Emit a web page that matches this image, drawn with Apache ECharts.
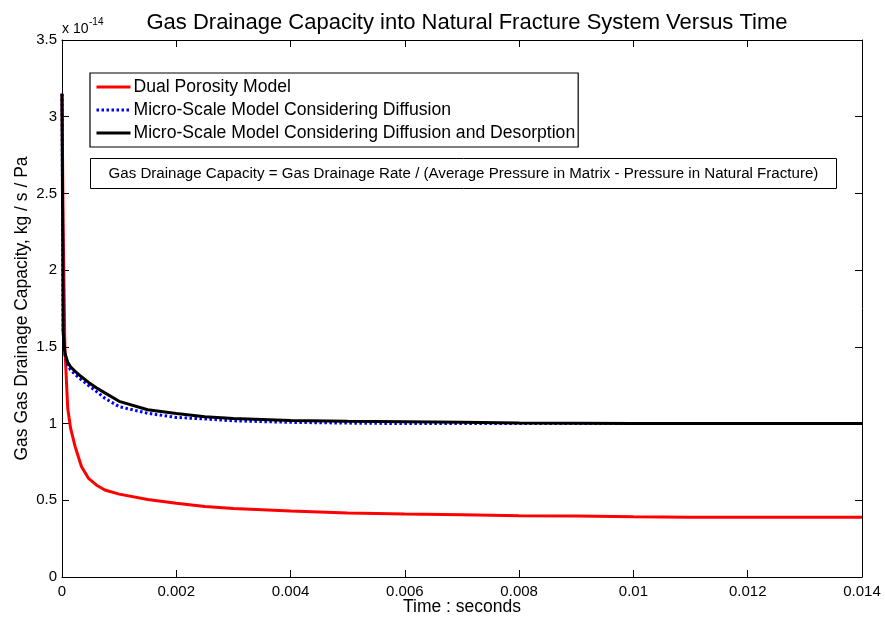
<!DOCTYPE html>
<html>
<head>
<meta charset="utf-8">
<script src="https://cdn.jsdelivr.net/npm/echarts@6/dist/echarts.min.js"></script>
<style>
  html, body { margin: 0; padding: 0; background: #fff; }
  #chart { width: 885px; height: 619px; }
</style>
</head>
<body>
<div id="chart"></div>
<script>
// Time samples (seconds)
var times = [0, 0.00002, 0.00005, 0.0001, 0.00015, 0.00023, 0.00034, 0.00046, 0.0006, 0.00075,
  0.001, 0.0015, 0.002, 0.0025, 0.003, 0.004, 0.005, 0.006, 0.007, 0.008,
  0.009, 0.010, 0.011, 0.012, 0.013, 0.014];

// Gas drainage capacity, in units of 1e-14 kg/s/Pa
var dualPorosity = [3.15, 2.3, 1.5, 1.1, 0.97, 0.85, 0.72, 0.645, 0.60, 0.567,
  0.54, 0.505, 0.48, 0.46, 0.447, 0.43, 0.417, 0.41, 0.405, 0.40,
  0.397, 0.392, 0.39, 0.39, 0.39, 0.39];
var diffusionOnly = [3.15, 1.6, 1.45, 1.38, 1.35, 1.32, 1.285, 1.25, 1.21, 1.165,
  1.11, 1.067, 1.04, 1.03, 1.018, 1.008, 1.003, 1.0, 1.0, 1.0,
  1.0, 1.0, 1.0, 1.0, 1.0, 1.0];
var diffusionDesorption = [3.15, 1.6, 1.46, 1.40, 1.37, 1.34, 1.305, 1.27, 1.234, 1.20,
  1.145, 1.09, 1.065, 1.045, 1.033, 1.02, 1.015, 1.012, 1.008, 1.004,
  1.002, 1.0, 1.0, 1.0, 1.0, 1.0];

var seriesNames = [
  'Dual Porosity Model',
  'Micro-Scale Model Considering Diffusion',
  'Micro-Scale Model Considering Diffusion and Desorption'
];
var xTicks = { min: 0, max: 0.014, step: 0.002 };
var yTicks = { min: 0, max: 3.5, step: 0.5 };

var FONT = '"Liberation Sans", Arial, sans-serif';

function pairs(vals) {
  return times.map(function (t, i) { return [t, vals[i]]; });
}
function fmt(v) { return String(parseFloat(v.toFixed(4))); }

var chart = echarts.init(document.getElementById('chart'), null, { renderer: 'canvas' });

var tickStyle = { show: true, inside: true, length: 7, lineStyle: { color: '#000', width: 1 } };
var lineStyle = { show: true, onZero: false, lineStyle: { color: '#000', width: 1 } };

chart.setOption({
  animation: false,
  backgroundColor: '#fff',
  title: {
    text: 'Gas Drainage Capacity into Natural Fracture System Versus Time',
    left: 462, top: 7, textAlign: 'center',
    textStyle: { fontFamily: FONT, fontSize: 22, fontWeight: 'normal', color: '#000' }
  },
  grid: { left: 62, right: 23, top: 40, bottom: 42, containLabel: false, outerBoundsMode: 'none' },
  legend: {
    orient: 'vertical',
    left: 90, top: 73,
    padding: [5, 3, 5, 5],
    itemGap: 5,
    itemWidth: 34, itemHeight: 17,
    backgroundColor: '#fff',
    borderColor: '#000', borderWidth: 1.2,
    itemStyle: { opacity: 0 },
    lineStyle: { width: 3 },
    textStyle: { fontFamily: FONT, fontSize: 17.6, color: '#000', padding: [0, 0, 0, -2] },
    data: seriesNames
  },
  xAxis: [{
    type: 'value', min: xTicks.min, max: xTicks.max, interval: xTicks.step,
    name: 'Time : seconds', nameLocation: 'middle', nameGap: 21, nameMoveOverlap: false,
    nameTextStyle: { fontFamily: FONT, fontSize: 17.5, color: '#000' },
    axisLine: lineStyle, axisTick: tickStyle, splitLine: { show: false },
    axisLabel: { fontFamily: FONT, fontSize: 15, color: '#000', margin: 7, formatter: fmt }
  }, {
    type: 'value', position: 'top', min: xTicks.min, max: xTicks.max, interval: xTicks.step,
    axisLine: lineStyle, axisTick: tickStyle, splitLine: { show: false },
    axisLabel: { show: false }
  }],
  yAxis: [{
    type: 'value', min: yTicks.min, max: yTicks.max, interval: yTicks.step,
    name: 'Gas Gas Drainage Capacity, kg / s / Pa', nameLocation: 'middle', nameGap: 31, nameMoveOverlap: false,
    nameTextStyle: { fontFamily: FONT, fontSize: 17.5, color: '#000' },
    axisLine: lineStyle, axisTick: tickStyle, splitLine: { show: false },
    axisLabel: { fontFamily: FONT, fontSize: 15, color: '#000', margin: 5, formatter: fmt }
  }, {
    type: 'value', position: 'right', min: yTicks.min, max: yTicks.max, interval: yTicks.step,
    axisLine: lineStyle, axisTick: tickStyle, splitLine: { show: false },
    axisLabel: { show: false }
  }],
  graphic: [
    { type: 'text', left: 62, top: 22, style: { text: 'x 10', font: '14px ' + FONT, fill: '#000' } },
    { type: 'text', left: 89, top: 17, style: { text: '-14', font: '10px ' + FONT, fill: '#000' } },
    {
      type: 'group', left: 90, top: 158,
      children: [
        { type: 'rect', shape: { x: 0, y: 0, width: 746, height: 30 },
          style: { fill: '#fff', stroke: '#000', lineWidth: 1 } },
        { type: 'text', x: 18, y: 15,
          style: { text: 'Gas Drainage Capacity = Gas Drainage Rate / (Average Pressure in Matrix - Pressure in Natural Fracture)',
            font: '15.1px ' + FONT, fill: '#000', textVerticalAlign: 'middle' } }
      ]
    }
  ],
  series: [{
    name: seriesNames[0], type: 'line', data: pairs(dualPorosity),
    showSymbol: false, symbol: 'none', z: 2,
    lineStyle: { color: '#ff0000', width: 3 }, itemStyle: { color: '#ff0000' }
  }, {
    name: seriesNames[1], type: 'line', data: pairs(diffusionOnly),
    showSymbol: false, symbol: 'none', z: 3,
    lineStyle: { color: '#0000ff', width: 3, type: [2.5, 2.5], cap: 'butt' }, itemStyle: { color: '#0000ff' }
  }, {
    name: seriesNames[2], type: 'line', data: pairs(diffusionDesorption),
    showSymbol: false, symbol: 'none', z: 4,
    lineStyle: { color: '#000000', width: 3 }, itemStyle: { color: '#000000' }
  }]
});
</script>
</body>
</html>
